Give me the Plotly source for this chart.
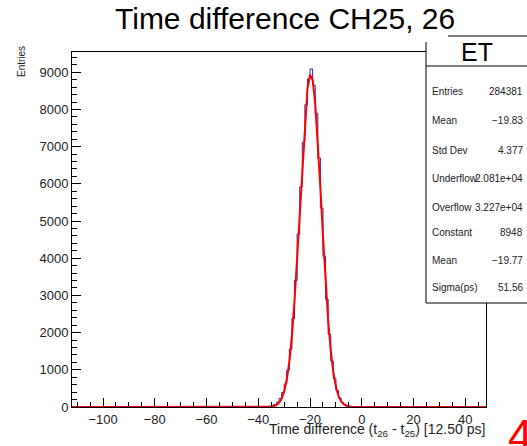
import plotly.graph_objects as go

# ---------------- data (x in units of 12.50 ps) ----------------
hist_lo = [-38, -37, -36, -35, -34, -33, -32, -31, -30, -29, -28, -27, -26, -25,
           -24, -23, -22, -21, -20, -19, -18, -17, -16, -15, -14, -13, -12, -11,
           -10, -9, -8, -7, -6, -5, -4]
hist_counts = [4, 8, 18, 35, 70, 130, 230, 390, 620, 990, 1560, 2380, 3400, 4650,
               5920, 7120, 8130, 8820, 9090, 8650, 7900, 6700, 5350, 4050, 2900, 1950, 1240, 760,
               440, 240, 125, 62, 28, 12, 5]

fit_x = [-112, -40, -39, -38, -37, -36, -35, -34, -33, -32, -31, -30, -29, -28, -27, -26,
         -25, -24, -23, -22, -21, -20, -19, -18, -17, -16, -15, -14, -13, -12,
         -11, -10, -9, -8, -7, -6, -5, -4, -3, -2, -1, 0, 48]
fit_y = [0, 0, 0, 1, 1, 4, 10, 23, 52, 110, 220, 414, 732, 1223, 1926, 2862,
         4005, 5288, 6586, 7732, 8559, 8934, 8794, 8161, 7142, 5893, 4587, 3364, 2327, 1518,
         933, 542, 296, 153, 74, 34, 15, 6, 2, 1, 0, 0, 0]

x_ticks = [-100, -80, -60, -40, -20, 0, 20, 40]
y_ticks = [0, 1000, 2000, 3000, 4000, 5000, 6000, 7000, 8000, 9000]

title_text = "Time difference CH25, 26"
stats_name = "ET"
stats_labels = ["Entries", "Mean", "Std Dev", "Underflow", "Overflow", "Constant", "Mean", "Sigma(ps)"]
stats_values = ["284381", "\u221219.83", "4.377", "2.081e+04", "3.227e+04", "8948", "\u221219.77", "51.56"]

# ---------------- geometry ----------------
W, H = 527, 446
L, R, T, B = 72, 486, 52, 407
FONT = "Liberation Sans, Arial, sans-serif"


def px(x):
    return (x - L) / (R - L)


def py(y):
    return (B - y) / (B - T)


# histogram as a step line
hx = [-112] + hist_lo + [hist_lo[-1] + 1, 48]
hy = [0] + hist_counts + [0, 0]

fig = go.Figure()
fig.add_trace(go.Scatter(x=hx, y=hy, mode="lines", line=dict(color="#2a2aa8", width=1, shape="hv"),
                         hoverinfo="skip", showlegend=False))
fig.add_trace(go.Scatter(x=fit_x, y=fit_y, mode="lines", line=dict(color="#ff0000", width=2),
                         hoverinfo="skip", showlegend=False))

axis_common = dict(showline=True, linecolor="black", linewidth=1, mirror=True, showgrid=False,
                   zeroline=False, ticks="inside", tickcolor="black", ticklen=9, tickwidth=1,
                   tickfont=dict(family=FONT, size=13, color="#222"))

fig.update_xaxes(range=[-112, 48], tickvals=x_ticks,
                 ticktext=[("\u2212" + str(-v)) if v < 0 else str(v) for v in x_ticks],
                 minor=dict(dtick=5, tick0=0, ticks="inside", ticklen=5, tickcolor="black", showgrid=False),
                 **axis_common)
fig.update_yaxes(range=[0, 9545], tickvals=y_ticks,
                 minor=dict(dtick=200, tick0=0, ticks="inside", ticklen=5, tickcolor="black", showgrid=False),
                 **axis_common)

shapes = [
    dict(type="rect", xref="paper", yref="paper", x0=px(426), x1=px(545), y0=py(303), y1=py(36),
         line=dict(color="black", width=1), fillcolor="white", layer="above"),
    dict(type="line", xref="paper", yref="paper", x0=px(426), x1=px(545), y0=py(66), y1=py(66),
         line=dict(color="black", width=1), layer="above"),
    # title pad hides the top-left corner of the stats box
    dict(type="rect", xref="paper", yref="paper", x0=px(400), x1=px(448), y0=py(42), y1=py(30),
         line=dict(width=0), fillcolor="white", layer="above"),
]

ann = []
ann.append(dict(text=stats_name, xref="paper", yref="paper", x=px(477), y=py(52), xanchor="center",
                yanchor="middle", showarrow=False, font=dict(family=FONT, size=25, color="black")))
row_y = [92, 121, 150, 178, 207, 232, 260, 287]
for lab, val, yy in zip(stats_labels, stats_values, row_y):
    ann.append(dict(text=lab, xref="paper", yref="paper", x=px(430), y=py(yy), xanchor="left",
                    yanchor="middle", showarrow=False, font=dict(family=FONT, size=10, color="#222")))
    ann.append(dict(text=val, xref="paper", yref="paper", x=px(525), y=py(yy), xanchor="right",
                    yanchor="middle", showarrow=False, font=dict(family=FONT, size=10, color="#222")))

# axis titles
ann.append(dict(text="Time difference (t<sub>26</sub> - t<sub>25</sub>) [12.50 ps]", xref="paper", yref="paper",
                x=px(487), y=py(419), xanchor="right", yanchor="top", showarrow=False,
                font=dict(family=FONT, size=14, color="#222")))
ann.append(dict(text="Entries", xref="paper", yref="paper", x=px(22), y=py(62), xanchor="center",
                yanchor="middle", textangle=-90, showarrow=False,
                font=dict(family=FONT, size=10, color="#222")))
# red glyph in the corner
ann.append(dict(text="4", xref="paper", yref="paper", x=px(506), y=py(436), xanchor="left",
                yanchor="middle", showarrow=False, font=dict(family=FONT, size=44, color="#ff0000")))

fig.update_layout(
    width=W, height=H,
    margin=dict(l=L, r=W - R, t=T, b=H - B),
    paper_bgcolor="white", plot_bgcolor="white",
    title=dict(text=title_text, x=115 / W, xanchor="left", xref="container",
               y=1 - 18 / H, yanchor="middle", yref="container",
               font=dict(family=FONT, size=30, color="black")),
    shapes=shapes, annotations=ann, showlegend=False,
)

fig.write_html("out.html", config={"displayModeBar": False},
               post_script="document.body.style.margin='0';document.body.style.overflow='hidden';")
